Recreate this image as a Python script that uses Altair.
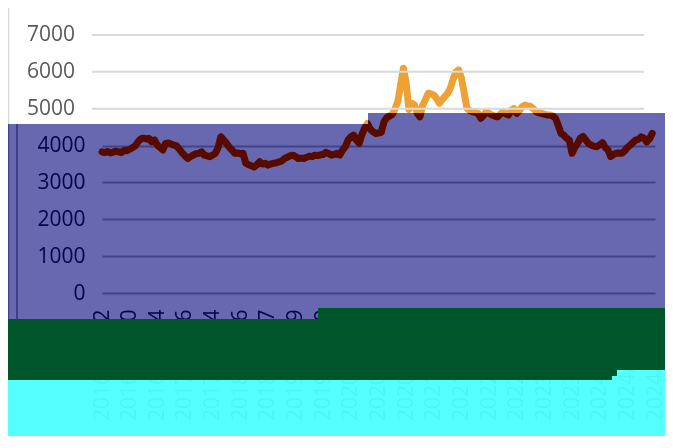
import altair as alt
import pandas as pd

# ---- data ----
values = [
    3830, 3810, 3840, 3800, 3820, 3850, 3830, 3810, 3870, 3860,
    3900, 3940, 3990, 4100, 4180, 4200, 4180, 4190, 4100, 4150,
    4010, 3950, 3880, 4060, 4070, 4040, 4010, 3990, 3900, 3800,
    3720, 3650, 3700, 3740, 3780, 3790, 3830, 3740, 3720, 3700,
    3740, 3790, 3950, 4240, 4150, 4060, 3960, 3880, 3790, 3800,
    3780, 3790, 3520, 3480, 3450, 3420, 3480, 3560, 3500, 3520,
    3470, 3500, 3520, 3530, 3560, 3580, 3650, 3680, 3720, 3740,
    3700, 3650, 3660, 3650, 3680, 3715, 3700, 3740, 3730, 3750,
    3760, 3815, 3780, 3740, 3760, 3790, 3740, 3880, 3970, 4150,
    4240, 4285, 4150, 4060, 4300, 4470, 4600, 4450, 4375, 4330,
    4340, 4360, 4650, 4760, 4800, 4850, 5000, 5200, 5650, 6100,
    5700, 4980, 5150, 5100, 4880, 4780, 5100, 5250, 5420, 5400,
    5370, 5280, 5150, 5240, 5330, 5420, 5560, 5800, 6000, 6050,
    5830, 5420, 5010, 4950, 4920, 4900, 4875, 4740, 4820, 4920,
    4870, 4830, 4800, 4780, 4850, 4920, 4860, 4830, 4960, 5010,
    4875, 4950, 5060, 5100, 5080, 5060, 5000, 4920, 4890, 4875,
    4850, 4830, 4830, 4800, 4740, 4550, 4330, 4285, 4200, 4150,
    3790, 3950, 4060, 4200, 4250, 4150, 4050, 4010, 3980, 3970,
    4020, 4080, 3950, 3880, 3700, 3760, 3790, 3800, 3790, 3850,
    3950, 4010, 4080, 4150, 4170, 4240, 4200, 4100, 4180, 4330,
]
x_labels = [
    "2016/01/12", "2016/06/20", "2016/11/24", "2017/04/26", "2017/09/14",
    "2018/02/26", "2018/08/07", "2019/01/09", "2019/06/20", "2020/01/02",
    "2020/06/12", "2020/11/20", "2021/05/06", "2021/10/18", "2022/03/28",
    "2022/09/05", "2023/02/14", "2023/07/24", "2024/01/02", "2024/06/12",
    "2024/11/20",
]
band_ticks = [0, 1000, 2000, 3000, 4000]
top_ticks = [5000, 6000, 7000]

df = pd.DataFrame({"i": list(range(len(values))), "v": values})
top_df = pd.DataFrame({"v": top_ticks, "t": [str(t) for t in top_ticks]})
one = pd.DataFrame({"k": [0]})

FONT = "Open Sans"
W, H = 553, 258
PURPLE = "#6868b0"
LBL = "#9c9c9c"
label_expr = "[" + ",".join("'%s'" % s for s in x_labels) + "][round(datum.value/10)]"

xs = alt.Scale(domain=[0, 200], nice=False, zero=False)
ys = alt.Scale(domain=[0, 7000], nice=False)
y_axis = alt.Axis(
    values=band_ticks, format="d", labelFontSize=21, labelFont=FONT, labelColor=LBL,
    labelPadding=17, grid=True, gridColor="#d9d9d9", gridWidth=2,
    domain=False, ticks=False, title=None)


def box(x1, x2, y1, y2, **mk):
    return alt.Chart(one).mark_rect(**mk).encode(
        x=alt.value(x1), x2=alt.value(x2), y=alt.value(y1), y2=alt.value(y2)
    )


line = alt.Chart(df).mark_line(
    color="#eea236", strokeWidth=7, strokeCap="round", strokeJoin="round"
).encode(
    x=alt.X("i:Q", scale=xs, axis=alt.Axis(
        values=list(range(0, 201, 10)), labelExpr=label_expr, labelAngle=-90,
        labelFontSize=21, labelFont=FONT, labelColor=LBL, labelPadding=16,
        labelOverlap=False, labelFlush=False, grid=False, domain=False, ticks=False,
        title=None)),
    y=alt.Y("v:Q", scale=ys, axis=y_axis),
)

top_grid = alt.Chart(top_df).mark_rule(color="#d9d9d9", strokeWidth=2).encode(
    x=alt.value(-10), x2=alt.value(542), y=alt.Y("v:Q", scale=ys, axis=y_axis)
)
top_text = alt.Chart(top_df).mark_text(
    align="right", baseline="middle", font=FONT, fontSize=21, color="#595959"
).encode(x=alt.value(-27), y=alt.Y("v:Q", scale=ys, axis=y_axis), text="t:N")

border1 = alt.Chart(one).mark_rule(color="#d9d9d9", strokeWidth=1.5).encode(
    x=alt.value(-93.5), y=alt.value(-27), y2=alt.value(330))
border2 = alt.Chart(one).mark_rule(color="#c8c8c8", strokeWidth=1.5).encode(
    x=alt.value(-85), y=alt.value(89), y2=alt.value(330))

burn_a = box(-100, 266, 89, 330, color=PURPLE, blend="color-burn")
burn_b = box(266, 580, 78, 330, color=PURPLE, blend="color-burn")
mult_a = box(-100, 266, 89, 330, color=PURPLE, blend="multiply")
mult_b = box(266, 580, 78, 330, color=PURPLE, blend="multiply")

cyan = box(-100, 580, 335, 420, color="#42ffff", opacity=0.9)
GREEN = "#00552a"
green_a = box(-100, 216, 284, 345, color=GREEN)
green_b = box(216, 510, 273, 345, color=GREEN)
green_c = box(510, 515, 273, 341, color=GREEN)
green_d = box(515, 580, 273, 335, color=GREEN)

chart = alt.layer(
    line, top_grid, top_text, border1, border2,
    burn_a, burn_b, mult_a, mult_b,
    cyan, green_a, green_b, green_c, green_d,
).properties(
    width=W, height=H,
    padding={"left": 94, "top": 27, "right": 10, "bottom": 143},
    autosize=alt.AutoSizeParams(type="none"),
    background="white",
).configure_view(strokeWidth=0)

chart.save("out.html", embed_options={"renderer": "svg", "actions": False})
